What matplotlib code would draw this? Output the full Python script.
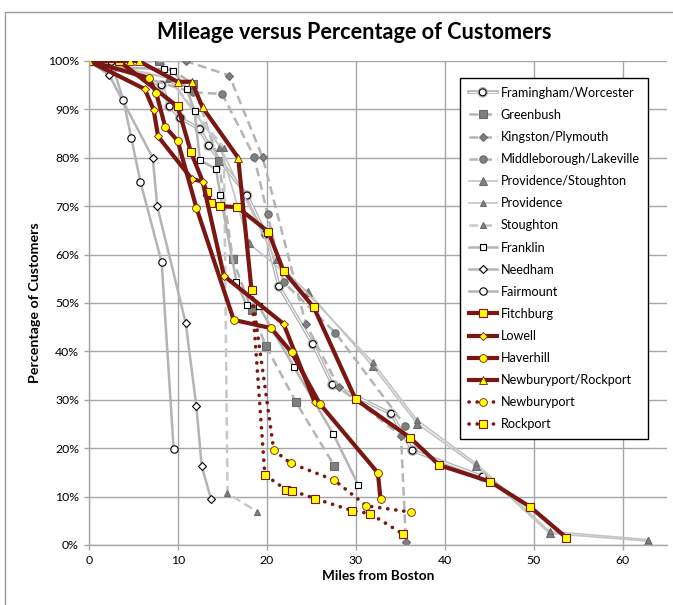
import matplotlib
matplotlib.use("Agg")
import matplotlib.pyplot as plt
from matplotlib import patheffects as pe
from matplotlib.patches import Rectangle
from matplotlib.ticker import MultipleLocator, PercentFormatter

plt.rcParams['font.family'] = ['Lato', 'DejaVu Sans']

# miles from Boston (x) and percentage of customers (y), one pair per line
framingham_x = [0, 1.3, 3.0, 8.2, 9.1, 10.3, 12.5, 13.5, 17.8, 19.9, 21.4, 25.2, 27.4, 34.0, 36.4, 44.3]
framingham_y = [100, 100, 98.8, 95.0, 90.6, 88.2, 85.9, 82.5, 72.2, 64.2, 53.4, 41.5, 33.1, 27.1, 19.5, 14.1]
greenbush_x = [0, 7.9, 11.75, 14.6, 16.2, 18.3, 19.9, 23.3, 27.6]
greenbush_y = [100, 100, 95.2, 79.4, 59.0, 48.6, 41.2, 29.5, 16.4]
kingston_x = [0, 10.9, 15.8, 19.55, 24.4, 28.1, 35.1, 35.65]
kingston_y = [100, 100, 97.0, 80.1, 45.7, 32.6, 22.6, 0.6]
middleborough_x = [0, 11.75, 15.0, 18.6, 20.1, 21.9, 27.7, 35.6]
middleborough_y = [100, 93.5, 93.2, 80.2, 68.3, 54.3, 43.9, 24.6]
prov_stoughton_x = [0, 9.0, 14.75, 18.0, 24.7, 31.9, 36.9, 43.5, 51.8, 62.9]
prov_stoughton_y = [100, 96.5, 82.3, 62.3, 52.2, 37.0, 25.1, 16.4, 2.4, 0.8]
providence_x = [0, 9.0, 14.75, 21.0, 31.9, 36.9, 43.5, 51.8, 62.9]
providence_y = [100, 96.5, 82.3, 58.9, 37.8, 25.8, 16.9, 2.8, 1.1]
stoughton_x = [0, 9.0, 15.2, 15.6, 18.9]
stoughton_y = [100, 96.5, 82.0, 10.7, 6.9]
franklin_x = [0, 2.2, 8.5, 9.5, 11.0, 11.9, 12.5, 14.3, 14.8, 16.6, 17.75, 19.1, 23.1, 27.5, 30.3]
franklin_y = [100, 98.8, 98.3, 98.0, 94.3, 89.7, 79.5, 77.7, 72.3, 54.4, 49.5, 49.4, 36.7, 22.9, 12.4]
needham_x = [0, 2.3, 7.2, 7.7, 10.9, 12.1, 12.7, 13.75]
needham_y = [100, 97.1, 80.0, 70.0, 45.9, 28.7, 16.3, 9.5]
fairmount_x = [0, 2.5, 3.9, 4.8, 5.8, 8.2, 9.55]
fairmount_y = [100, 100, 91.9, 84.0, 75.1, 58.4, 19.8]
fitchburg_x = [0, 3.4, 10.0, 11.5, 13.3, 13.7, 14.75, 16.7, 20.2, 21.9, 25.3, 30.0, 36.1, 39.4, 45.1, 49.6, 53.7]
fitchburg_y = [100, 100, 90.6, 81.1, 72.9, 70.7, 70.0, 69.8, 64.7, 56.6, 49.1, 30.1, 22.2, 16.5, 13.1, 7.9, 1.5]
lowell_x = [0, 6.3, 7.3, 7.8, 11.6, 12.8, 15.2, 21.9, 25.4]
lowell_y = [100, 94.2, 89.9, 84.4, 75.6, 75.1, 55.6, 45.7, 29.5]
haverhill_x = [0, 6.8, 7.6, 8.6, 10.0, 12.1, 16.3, 20.5, 22.8, 26.0, 32.5, 32.8]
haverhill_y = [100, 96.5, 93.3, 86.4, 83.5, 69.7, 46.5, 44.8, 39.8, 29.1, 14.9, 9.5]
newb_rock_x = [0, 4.6, 5.6, 10.0, 11.6, 12.8, 16.8, 18.3]
newb_rock_y = [100, 100, 100, 95.7, 95.7, 90.4, 80.0, 52.7]
newburyport_x = [18.3, 20.8, 22.7, 27.6, 31.2, 36.2]
newburyport_y = [52.7, 19.6, 16.9, 13.4, 8.1, 6.8]
rockport_x = [18.3, 19.8, 22.2, 22.9, 25.4, 29.6, 31.6, 35.3]
rockport_y = [52.7, 14.5, 11.4, 11.2, 9.6, 7.1, 6.5, 2.3]

RED = '#7a1712'
YEL = '#ffff00'
LG = '#b4b4b4'
MG = '#808080'
DASH = (0, (3.5, 2.0))
DOT = (0, (0.05, 2.2))

fig = plt.figure(figsize=(6.73, 6.05), dpi=100)
ax = fig.add_axes([0.1318, 0.0992, 0.8593, 0.8000])

ax.plot(framingham_x, framingham_y, color='white', lw=0.7, marker='o', ms=5,
        mfc='white', mec='black', mew=0.8, label='Framingham/Worcester',
        path_effects=[pe.Stroke(linewidth=2.6, foreground=LG), pe.Normal()])
ax.plot(greenbush_x, greenbush_y, color=LG, lw=1.8, ls=DASH, marker='s', ms=5.3,
        mfc=MG, mec='#6a6a6a', mew=0.8, label='Greenbush')
ax.plot(kingston_x, kingston_y, color=LG, lw=1.8, ls=DASH, marker='D', ms=4.5,
        mfc=MG, mec='#6a6a6a', mew=0.8, label='Kingston/Plymouth')
ax.plot(middleborough_x, middleborough_y, color=LG, lw=1.8, ls=DASH, marker='o', ms=5.3,
        mfc=MG, mec='#6a6a6a', mew=0.8, label='Middleborough/Lakeville')
ax.plot(prov_stoughton_x, prov_stoughton_y, color='#c4c4c4', lw=1.2, marker='^', ms=6,
        mfc=MG, mec='#6a6a6a', mew=0.8, label='Providence/Stoughton')
ax.plot(providence_x, providence_y, color='#c4c4c4', lw=1.2, marker='^', ms=4.5,
        mfc=MG, mec='#6a6a6a', mew=0.8, label='Providence')
ax.plot(stoughton_x, stoughton_y, color='#c8c8c8', lw=1.8, ls=DASH, marker='^', ms=4.5,
        mfc=MG, mec='#6a6a6a', mew=0.8, label='Stoughton')
ax.plot(franklin_x, franklin_y, color=LG, lw=1.8, marker='s', ms=4.5,
        mfc='white', mec='black', mew=0.8, label='Franklin')
ax.plot(needham_x, needham_y, color=LG, lw=1.8, marker='D', ms=3.6,
        mfc='white', mec='black', mew=0.8, label='Needham')
ax.plot(fairmount_x, fairmount_y, color=LG, lw=1.8, marker='o', ms=5.3,
        mfc='white', mec='black', mew=0.8, label='Fairmount')
ax.plot(fitchburg_x, fitchburg_y, color=RED, lw=3, marker='s', ms=5.6,
        mfc=YEL, mec=RED, mew=0.8, label='Fitchburg')
ax.plot(lowell_x, lowell_y, color=RED, lw=3, marker='D', ms=4.3,
        mfc=YEL, mec=RED, mew=0.6, label='Lowell')
ax.plot(haverhill_x, haverhill_y, color=RED, lw=3, marker='o', ms=5.6,
        mfc=YEL, mec=RED, mew=0.6, label='Haverhill')
ax.plot(newb_rock_x, newb_rock_y, color=RED, lw=3, marker='^', ms=6.3,
        mfc=YEL, mec=RED, mew=0.6, label='Newburyport/Rockport')
ax.plot(newburyport_x, newburyport_y, color=RED, lw=2.6, ls=DOT, dash_capstyle='round',
        marker='o', ms=5.6, mfc=YEL, mec=RED, mew=0.6, label='Newburyport')
ax.plot(rockport_x, rockport_y, color=RED, lw=2.6, ls=DOT, dash_capstyle='round',
        marker='s', ms=5.6, mfc=YEL, mec=RED, mew=0.8, label='Rockport')

ax.set_xlim(0, 65)
ax.set_ylim(0, 100)
ax.xaxis.set_major_locator(MultipleLocator(10))
ax.yaxis.set_major_locator(MultipleLocator(10))
ax.yaxis.set_major_formatter(PercentFormatter(decimals=0))
ax.grid(True, color='#a6a6a6', lw=1.0)
ax.set_axisbelow(True)
for s in ['top', 'right']:
    ax.spines[s].set_visible(False)
for s in ['left', 'bottom']:
    ax.spines[s].set_color('#a6a6a6')
    ax.spines[s].set_linewidth(1.0)
ax.tick_params(colors='#a6a6a6', labelcolor='black', labelsize=8.8, length=3.5, width=1.0)

ax.set_xlabel('Miles from Boston', fontsize=9.8, fontweight='bold', labelpad=3)
ax.set_ylabel('Percentage of Customers', fontsize=10.3, fontweight='bold', labelpad=5)
fig.text(0.526, 0.947, 'Mileage versus Percentage of Customers', ha='center', va='center',
         fontsize=15.6, fontweight='bold')

leg = ax.legend(loc='upper left', bbox_to_anchor=(0.642, 0.965), fontsize=9.1,
                frameon=True, fancybox=False, edgecolor='black', framealpha=1,
                handlelength=2.2, handletextpad=0.3, labelspacing=0.8,
                borderpad=0.7, borderaxespad=0)
leg.get_frame().set_linewidth(1.0)

fig.patches.append(Rectangle((5 / 673, -0.05), 1.1, 1 - 12 / 605 + 0.05,
                             transform=fig.transFigure, fill=False,
                             edgecolor='#9a9a9a', lw=1.0))

fig.savefig('out.png', dpi=100)
